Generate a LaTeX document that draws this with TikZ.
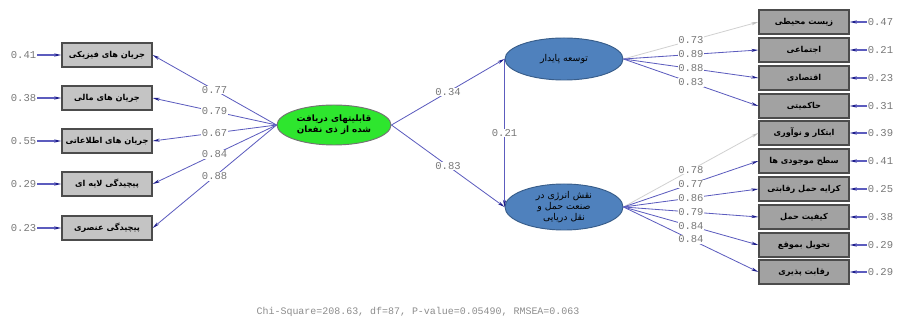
\documentclass[tikz,border=0pt]{standalone}
\usepackage{fontspec}
\usetikzlibrary{arrows.meta,shapes.geometric,calc}
\setmonofont{Liberation Mono}
\newfontfamily\farsi[Script=Arabic]{DejaVu Sans}
\TeXXeTstate=1
\newcommand{\fa}[1]{\beginR #1\endR}
\definecolor{pathblue}{HTML}{5C5CBE}
\definecolor{tipblue}{HTML}{1E1E8C}
\definecolor{latentblue}{HTML}{4F81BD}
\definecolor{latentedge}{HTML}{385D8A}
\definecolor{capgreen}{HTML}{2EE62E}
\definecolor{boxlight}{HTML}{C4C4C4}
\definecolor{boxdark}{HTML}{A2A2A2}
\definecolor{numgray}{HTML}{787878}
\tikzset{
  sem/.style={
    x=0.03cm, y=-0.03cm,
    obs/.style={rectangle, draw=black!70, line width=1.1pt, minimum width=2.7cm,
        minimum height=0.72cm, inner sep=0pt, font=\farsi\bfseries\fontsize{7}{9}\selectfont},
    obs light/.style={obs, fill=boxlight},
    obs dark/.style={obs, fill=boxdark},
    latent/.style={ellipse, draw=latentedge, line width=0.8pt, fill=latentblue, inner sep=0pt,
        align=center, font=\farsi\fontsize{8}{9.5}\selectfont},
    load/.style={draw=pathblue, line width=0.7pt, -{Stealth[length=6pt,width=2.6pt,color=tipblue]}},
    pale load/.style={draw=black!18, line width=0.7pt, -{Stealth[length=6pt,width=2.6pt,color=black!25]}},
    err/.style={load, line width=1pt},
    coef/.style={fill=white, inner sep=0.5pt, text=numgray, font=\ttfamily\fontsize{9}{9}\selectfont},
    err value/.style={inner sep=0.5pt, text=numgray, font=\ttfamily\fontsize{9}{9}\selectfont},
    fit info/.style={text=black!45, font=\ttfamily\fontsize{8.5}{9}\selectfont},
  }
}

\begin{document}
\begin{tikzpicture}[sem]
    \useasboundingbox (0,0) rectangle (900,320);

    \node[latent, fill=capgreen, draw=black!55, minimum width=3.42cm, minimum height=1.2cm,
        font=\farsi\bfseries\fontsize{7.5}{9.5}\selectfont] (cap)
        at (334,125) {\fa{قابلیتهای دریافت}\\\fa{شده از ذی نفعان}};
    \node[latent, minimum width=3.54cm, minimum height=1.26cm] (sust) at (564,59) {\fa{توسعه پایدار}};
    \node[latent, minimum width=3.54cm, minimum height=1.38cm] (energy)
        at (564,207) {\fa{نقش انرژی در}\\\fa{صنعت حمل و}\\\fa{نقل دریایی}};

    % left indicators
    \foreach \i/\t/\y/\l/\e in {1/{جریان های فیزیکی}/55/0.77/0.41,
                                2/{جریان های مالی}/98/0.79/0.38,
                                3/{جریان های اطلاعاتی}/141/0.67/0.55,
                                4/{پیچیدگی لایه ای}/184/0.84/0.29,
                                5/{پیچیدگی عنصری}/228/0.88/0.23}{
        \node[obs light] (L\i) at (107,\y) {\fa{\t}};
        \node[err value, anchor=east] (eL\i) at (37,\y) {\e};
        \draw[err] (eL\i) -- (L\i);
        \draw[load] (cap.west) -- node[coef]{\l} (L\i.east);
    }

    % right indicators, upper
    \foreach \i/\t/\y/\l/\e/\s in {1/{زیست محیطی}/22/0.73/0.47/pale load,
                                   2/{اجتماعی}/50/0.89/0.21/load,
                                   3/{اقتصادی}/78/0.88/0.23/load,
                                   4/{حاکمیتی}/106/0.83/0.31/load}{
        \node[obs dark] (R\i) at (804,\y) {\fa{\t}};
        \node[err value, anchor=west] (eR\i) at (867,\y) {\e};
        \draw[err] (eR\i) -- (R\i);
        \draw[\s] (sust.east) -- node[coef]{\l} (R\i.west);
    }

    % right indicators, lower
    \foreach \i/\t/\y/\l/\e/\s in {5/{ابتکار و نوآوری}/133/0.78/0.39/pale load,
                                   6/{سطح موجودی ها}/161/0.77/0.41/load,
                                   7/{کرایه حمل رقابتی}/189/0.86/0.25/load,
                                   8/{کیفیت حمل}/217/0.79/0.38/load,
                                   9/{تحویل بموقع}/245/0.84/0.29/load,
                                   10/{رقابت پذیری}/272/0.84/0.29/load}{
        \node[obs dark] (R\i) at (804,\y) {\fa{\t}};
        \node[err value, anchor=west] (eR\i) at (867,\y) {\e};
        \draw[err] (eR\i) -- (R\i);
        \draw[\s] (energy.east) -- node[coef]{\l} (R\i.west);
    }

    \draw[load] (cap.east) -- node[coef]{0.34} (sust.west);
    \draw[load] (cap.east) -- node[coef]{0.83} (energy.west);
    \draw[load, line width=1.3pt] (sust.west) -- node[coef]{0.21} (energy.west);

    \node[fit info] (chisq) at (418,312) {Chi-Square=208.63, df=87, P-value=0.05490, RMSEA=0.063};
\end{tikzpicture}
\end{document}
